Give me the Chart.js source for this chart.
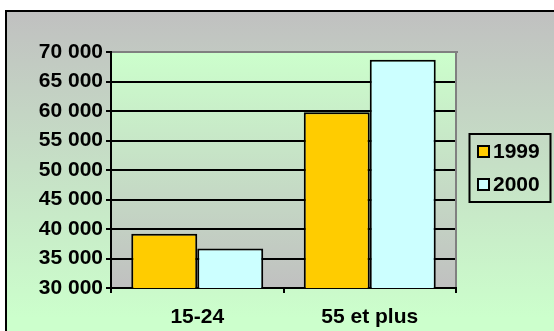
<!DOCTYPE html>
<html>
<head>
<meta charset="utf-8">
<script src="https://cdn.jsdelivr.net/npm/chart.js@4/dist/chart.umd.min.js"></script>
<style>
  html, body { margin: 0; padding: 0; background: #ffffff; }
  #wrap { width: 554px; height: 331px; }
</style>
</head>
<body>
<div id="wrap"><canvas id="c" width="554" height="331"></canvas></div>
<script>
// Age groups and yearly figures
const categories = ['15-24', '55 et plus'];
const seriesNames = ['1999', '2000'];
const values1999 = [39200, 59800];
const values2000 = [36700, 68700];
const yTickLabels = ['30 000', '35 000', '40 000', '45 000', '50 000', '55 000', '60 000', '65 000', '70 000'];

const FONT = { family: '"Liberation Sans", Arial, sans-serif', size: 21, weight: 'bold' };

// Frame, gradients and plot border
const backdrop = {
  id: 'backdrop',
  beforeDraw(chart) {
    const ctx = chart.ctx;
    const a = chart.chartArea;
    ctx.save();
    // outer panel
    const g = ctx.createLinearGradient(0, 11, 0, 318);
    g.addColorStop(0, '#c0c0c0');
    g.addColorStop(1, '#ccffcc');
    ctx.fillStyle = g;
    ctx.fillRect(6, 11, chart.width - 6, chart.height - 11);
    ctx.fillStyle = '#000000';
    ctx.fillRect(5, 10, chart.width - 5, 2);
    ctx.fillRect(5, 10, 2, chart.height - 10);
    // plot area
    const p = ctx.createLinearGradient(0, a.top, 0, a.bottom);
    p.addColorStop(0, '#ccffcc');
    p.addColorStop(1, '#c0c0c0');
    ctx.fillStyle = p;
    ctx.fillRect(a.left, a.top, a.right - a.left, a.bottom - a.top);
    ctx.restore();
  },
  beforeDatasetsDraw(chart) {
    const ctx = chart.ctx;
    const a = chart.chartArea;
    ctx.save();
    ctx.fillStyle = '#808080';
    ctx.fillRect(a.left + 1, a.top - 1, a.right - a.left + 1, 2);
    ctx.fillRect(a.right - 1, a.top - 1, 2, a.bottom - a.top);
    ctx.restore();
  }
};

// Boxed legend to the right of the plot
const boxedLegend = {
  id: 'boxedLegend',
  afterDraw(chart) {
    const ctx = chart.ctx;
    ctx.save();
    ctx.strokeStyle = '#000000';
    ctx.lineWidth = 2;
    ctx.strokeRect(469.5, 134, 81, 68);
    ctx.font = `${FONT.weight} ${FONT.size}px ${FONT.family}`;
    ctx.textBaseline = 'middle';
    ctx.textAlign = 'left';
    const rows = [151, 184];
    chart.data.datasets.forEach((ds, i) => {
      const cy = rows[i];
      ctx.fillStyle = ds.backgroundColor;
      ctx.fillRect(478, cy - 5, 11, 11);
      ctx.lineWidth = 2;
      ctx.strokeStyle = '#000000';
      ctx.strokeRect(478, cy - 5, 11, 11);
      ctx.fillStyle = '#000000';
      ctx.fillText(ds.label, 493, cy + 1);
    });
    ctx.restore();
  }
};

new Chart(document.getElementById('c'), {
  type: 'bar',
  data: {
    labels: categories,
    datasets: [
      { label: seriesNames[0], data: values1999, backgroundColor: '#ffcc00', borderColor: '#000000', borderWidth: 2, borderSkipped: 'start' },
      { label: seriesNames[1], data: values2000, backgroundColor: '#ccffff', borderColor: '#000000', borderWidth: 2, borderSkipped: 'start' }
    ]
  },
  options: {
    responsive: false,
    animation: false,
    devicePixelRatio: 1,
    layout: { padding: { top: 52, right: 98, bottom: 0, left: 0 } },
    datasets: { bar: { barPercentage: 1, categoryPercentage: 0.765 } },
    plugins: {
      legend: { display: false },
      tooltip: { enabled: false },
      title: { display: false }
    },
    scales: {
      x: {
        offset: true,
        grid: { display: true, drawOnChartArea: false, offset: true, color: '#000000', lineWidth: 2, tickLength: 5 },
        border: { display: true, color: '#000000', width: 2 },
        ticks: { color: '#000000', font: FONT, padding: 12, maxRotation: 0 },
        afterFit(scale) { scale.height = 43; }
      },
      y: {
        min: 30000,
        max: 70000,
        grid: { color: '#000000', lineWidth: 2, tickLength: 5, drawTicks: true },
        border: { display: true, color: '#000000', width: 2 },
        ticks: {
          stepSize: 5000,
          color: '#000000',
          font: FONT,
          padding: 3,
          callback: (v, i) => yTickLabels[i]
        },
        afterFit(scale) { scale.width = 111; }
      }
    }
  },
  plugins: [backdrop, boxedLegend]
});
</script>
</body>
</html>
